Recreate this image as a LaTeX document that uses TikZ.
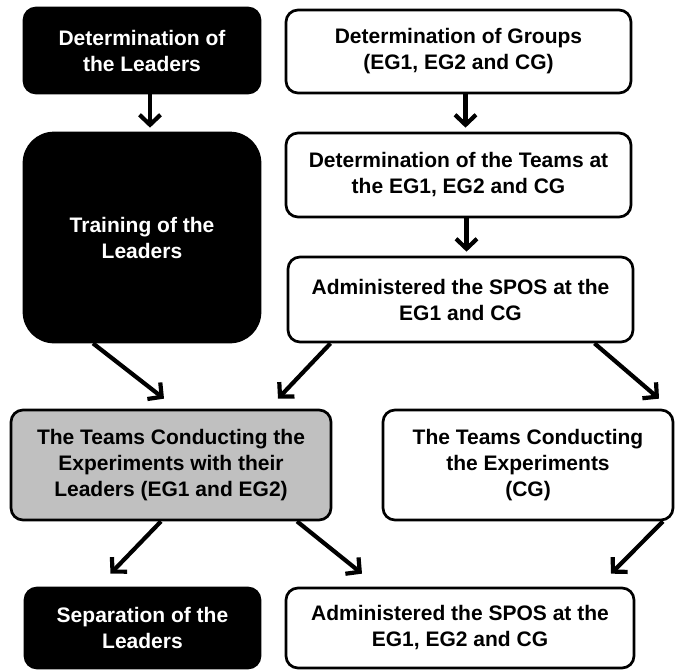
\documentclass[tikz,border=0pt]{standalone}
\usepackage{fontspec}
\setmainfont{Liberation Sans}
\usetikzlibrary{arrows.meta}
\definecolor{boxgrey}{HTML}{C0C0C0}

\begin{document}
\begin{tikzpicture}[x=1pt,y=-1pt,>={Straight Barb[length=10pt,width=21pt]},line width=4.2pt,
  box/.style={draw,rounded corners=12pt,align=center,inner sep=0pt,line width=2.7pt,font=\fontsize{21}{26}\selectfont\bfseries},
  dark box/.style={box,fill=black,text=white},
  light box/.style={box,fill=white},
  grey box/.style={box,fill=boxgrey}]

    \useasboundingbox (0,0) rectangle (675,670);

    \node[dark box, minimum width=236pt, minimum height=85pt]  (1) at (142,50.5) {Determination of\\the Leaders};
    \node[light box, minimum width=345pt, minimum height=83pt] (2) at (458.5,51.5) {Determination of Groups\\(EG1, EG2 and CG)};
    \node[dark box, rounded corners=30pt, minimum width=236pt, minimum height=209pt] (3) at (142,237.5) {Training of the\\Leaders};
    \node[light box, minimum width=345pt, minimum height=84pt] (4) at (458.5,175) {Determination of the Teams at\\the EG1, EG2 and CG};
    \node[light box, minimum width=345pt, minimum height=85pt] (5) at (460.5,299.5) {Administered the SPOS at the\\EG1 and CG};
    \node[grey box, minimum width=320pt, minimum height=110pt] (6) at (171,465) {The Teams Conducting the\\Experiments with their\\Leaders (EG1 and EG2)};
    \node[light box, minimum width=290pt, minimum height=110pt] (7) at (528,465) {The Teams Conducting\\the Experiments\\(CG)};
    \node[dark box, minimum width=235pt, minimum height=80pt] (8) at (142.5,628) {Separation of the\\Leaders};
    \node[light box, minimum width=348pt, minimum height=80pt] (9) at (460,628) {Administered the SPOS at the\\EG1, EG2 and CG};

    % vertical steps
    \draw[->] ([xshift=8pt]1.south) -- ([xshift=8pt,yshift=4pt]3.north);
    \draw[->] ([xshift=7pt]2.south) -- ([xshift=7pt,yshift=4pt]4.north);
    \draw[->] ([xshift=8pt]4.south) -- ([xshift=6pt,yshift=4pt]5.north);

    % into the groups
    \draw[->] ([xshift=-49pt]3.south) -- ([xshift=-7pt,yshift=10pt]6.north);
    \draw[->] ([xshift=-130pt]5.south) -- ([xshift=107pt,yshift=10pt]6.north);
    \draw[->] ([xshift=134pt]5.south) -- ([xshift=131pt,yshift=10pt]7.north);

    % out of the groups
    \draw[->] ([xshift=-10pt]6.south) -- ([xshift=-32pt,yshift=13pt]8.north);
    \draw[->] ([xshift=126pt]6.south) -- ([xshift=-98pt,yshift=13pt]9.north);
    \draw[->] ([xshift=135pt]7.south) -- ([xshift=151pt,yshift=13pt]9.north);

\end{tikzpicture}
\end{document}
